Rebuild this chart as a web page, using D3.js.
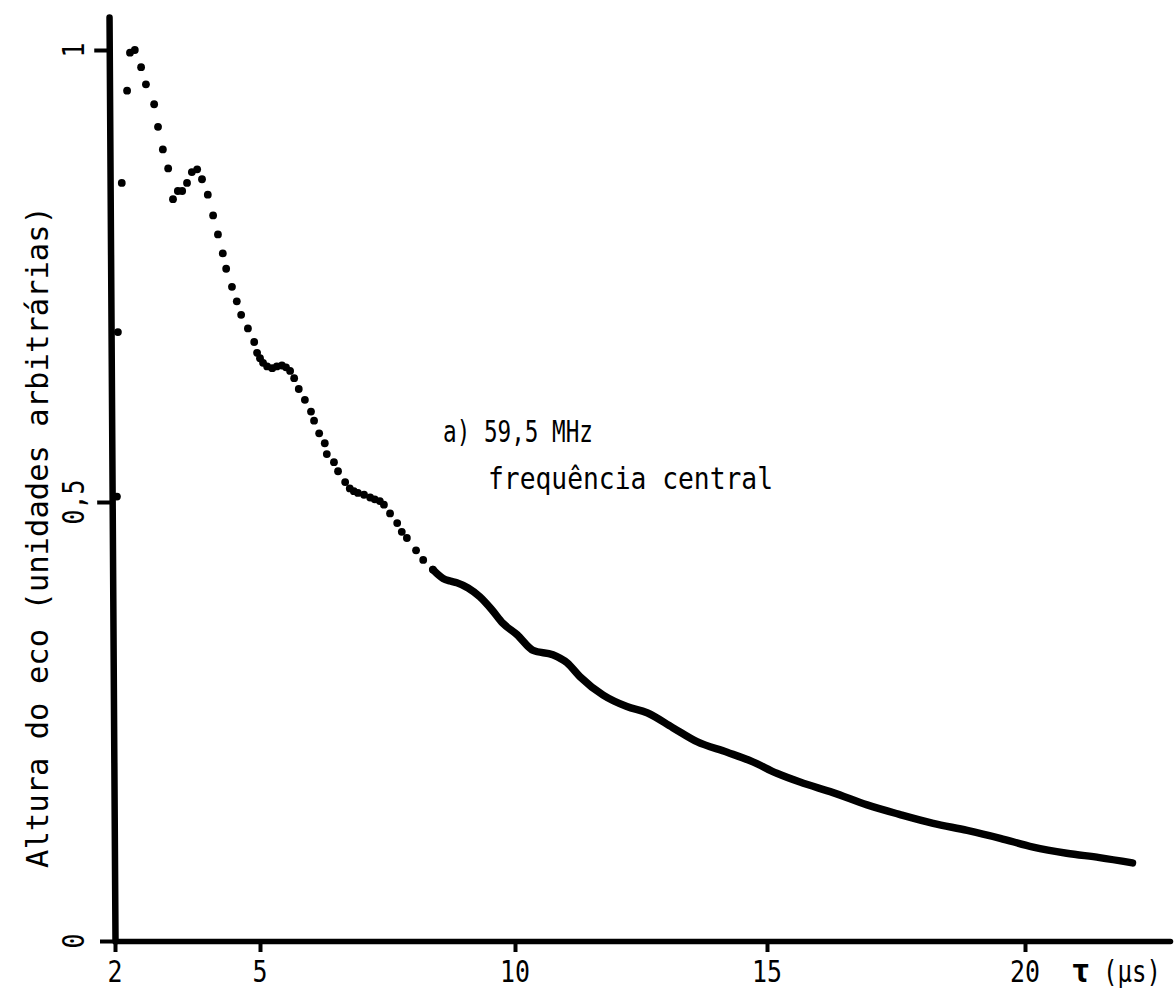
<!DOCTYPE html>
<html>
<head>
<meta charset="utf-8">
<script src="https://cdn.jsdelivr.net/npm/d3@7"></script>
<style>
  html, body { margin: 0; padding: 0; background: #fff; }
  svg { display: block; }
  text { font-family: "DejaVu Sans Mono", "Liberation Mono", monospace; fill: #000; }
</style>
</head>
<body>
<svg id="chart" width="1174" height="996"></svg>
<script>
// Echo height vs. delay, 59.5 MHz central frequency.
// Early part: individually resolved dots (rise, peak and first oscillations).
const dotTau = [2.04, 2.06, 2.14, 2.25, 2.31, 2.41, 2.54, 2.64, 2.81, 2.89, 2.99, 3.10,
  3.20, 3.30, 3.39, 3.49, 3.59, 3.70, 3.80, 3.92, 4.03, 4.13, 4.23, 4.30, 4.42, 4.52,
  4.61, 4.75, 4.88, 4.94, 5.00, 5.06, 5.14, 5.24, 5.33, 5.43, 5.51, 5.59, 5.67, 5.76,
  5.88, 6.00, 6.06, 6.16, 6.27, 6.31, 6.45, 6.53, 6.67, 6.76, 6.84, 6.92, 7.04, 7.16,
  7.25, 7.35, 7.43, 7.55, 7.69, 7.78, 7.88, 8.06, 8.20, 8.39];
const dotAmp = [0.506, 0.688, 0.853, 0.955, 0.997, 1.000, 0.981, 0.962, 0.940, 0.915, 0.890, 0.869,
  0.835, 0.844, 0.844, 0.853, 0.865, 0.868, 0.857, 0.840, 0.817, 0.796, 0.775, 0.758, 0.738, 0.722,
  0.707, 0.692, 0.677, 0.665, 0.659, 0.654, 0.650, 0.648, 0.650, 0.651, 0.649, 0.645, 0.637, 0.625,
  0.613, 0.600, 0.590, 0.576, 0.565, 0.553, 0.544, 0.534, 0.522, 0.515, 0.512, 0.510, 0.508, 0.505,
  0.503, 0.501, 0.497, 0.487, 0.476, 0.466, 0.459, 0.445, 0.434, 0.423];

// Later part: the recorded points run together into a continuous trace.
const traceTau = [8.39, 8.59, 8.73, 8.86, 9.08, 9.31, 9.55, 9.76, 10.04, 10.36, 10.75, 11.03,
  11.29, 11.75, 12.22, 12.62, 13.13, 13.61, 14.21, 14.72, 15.19, 15.64, 16.28, 16.94,
  17.58, 18.22, 18.88, 19.52, 20.16, 20.81, 21.45, 22.09];
const traceAmp = [0.423, 0.413, 0.410, 0.408, 0.402, 0.392, 0.377, 0.362, 0.349, 0.331, 0.326, 0.317,
  0.301, 0.280, 0.267, 0.260, 0.243, 0.227, 0.215, 0.204, 0.191, 0.181, 0.169, 0.155,
  0.144, 0.134, 0.126, 0.117, 0.107, 0.100, 0.095, 0.089];

// Axis ticks
const xTickValues = [2, 5, 10, 15, 20];
const xTickLabels = ["2", "5", "10", "15", "20"];
const yTickValues = [0, 0.5, 1];
const yTickLabels = ["0", "0,5", "1"];

// Texts
const yTitle = "Altura do eco (unidades arbitrárias)";
const xTitleSymbol = "τ";
const xTitleUnit = "(µs)";
const noteLines = ["a) 59,5 MHz", "frequência central"];

const svg = d3.select("#chart");
svg.append("rect").attr("width", 1174).attr("height", 996).attr("fill", "#fff");

// Hand-ruled axes: tick spacing is slightly uneven, so piecewise-linear scales are used.
const x = d3.scaleLinear()
  .domain([2, 5, 10, 15, 20, 22.82])
  .range([115, 260, 515, 767, 1025, 1170]);
const y = d3.scaleLinear()
  .domain([0, 0.5, 1, 1.0365])
  .range([941, 502, 50, 17]);

// x axis
const gx = svg.append("g")
  .attr("transform", `translate(0,${y(0)})`)
  .call(d3.axisBottom(x).tickValues(xTickValues).tickFormat("").tickSize(11).tickSizeOuter(0));
gx.select(".domain").attr("stroke", "#000").attr("stroke-width", 5.5).attr("stroke-linecap", "round");
gx.selectAll(".tick line").attr("stroke", "#000").attr("stroke-width", 4);

// y axis (ruled with a slight lean)
const gy = svg.append("g")
  .attr("transform", `translate(${x(2)},0) rotate(-0.37, 0, ${y(0)})`)
  .call(d3.axisLeft(y).tickValues(yTickValues).tickFormat("").tickSize(15).tickSizeOuter(0));
gy.select(".domain").attr("stroke", "#000").attr("stroke-width", 6.5).attr("stroke-linecap", "round");
gy.selectAll(".tick line").attr("stroke", "#000").attr("stroke-width", 4);

// x tick labels
svg.append("g").selectAll("text")
  .data(xTickValues)
  .join("text")
  .attr("x", d => x(d))
  .attr("y", 982)
  .attr("text-anchor", "middle")
  .attr("font-size", 30)
  .attr("textLength", (d, i) => xTickLabels[i].length * 15)
  .attr("lengthAdjust", "spacingAndGlyphs")
  .text((d, i) => xTickLabels[i]);

// y tick labels (rotated, like the axis title)
svg.append("g").selectAll("text")
  .data(yTickValues)
  .join("text")
  .attr("transform", d => `translate(84,${y(d)}) rotate(-90)`)
  .attr("text-anchor", "middle")
  .attr("font-size", 30)
  .attr("textLength", (d, i) => yTickLabels[i].length * 15)
  .attr("lengthAdjust", "spacingAndGlyphs")
  .text((d, i) => yTickLabels[i]);

// axis titles
svg.append("text")
  .attr("transform", "translate(48,537) rotate(-90)")
  .attr("text-anchor", "middle")
  .attr("font-size", 30)
  .attr("textLength", 662)
  .attr("lengthAdjust", "spacingAndGlyphs")
  .text(yTitle);

svg.append("text")
  .attr("x", 1071)
  .attr("y", 982)
  .attr("font-size", 32)
  .attr("font-weight", "bold")
  .text(xTitleSymbol);
svg.append("text")
  .attr("x", 1103)
  .attr("y", 982)
  .attr("font-size", 30)
  .attr("textLength", 58)
  .attr("lengthAdjust", "spacingAndGlyphs")
  .text(xTitleUnit);

// annotation
svg.append("text")
  .attr("x", 443).attr("y", 442)
  .attr("font-size", 30)
  .attr("textLength", 150)
  .attr("lengthAdjust", "spacingAndGlyphs")
  .text(noteLines[0]);
svg.append("text")
  .attr("x", 488).attr("y", 489)
  .attr("font-size", 30)
  .attr("textLength", 285)
  .attr("lengthAdjust", "spacingAndGlyphs")
  .text(noteLines[1]);

// continuous trace
const traceData = traceTau.map((t, i) => [t, traceAmp[i]]);
svg.append("path")
  .datum(traceData)
  .attr("fill", "none")
  .attr("stroke", "#000")
  .attr("stroke-width", 7.5)
  .attr("stroke-linecap", "round")
  .attr("stroke-linejoin", "round")
  .attr("d", d3.line().x(d => x(d[0])).y(d => y(d[1])).curve(d3.curveMonotoneX));

// dots
svg.append("g").selectAll("circle")
  .data(dotTau.map((t, i) => [t, dotAmp[i]]))
  .join("circle")
  .attr("cx", d => x(d[0]))
  .attr("cy", d => y(d[1]))
  .attr("r", 3.9)
  .attr("fill", "#000");
</script>
</body>
</html>
